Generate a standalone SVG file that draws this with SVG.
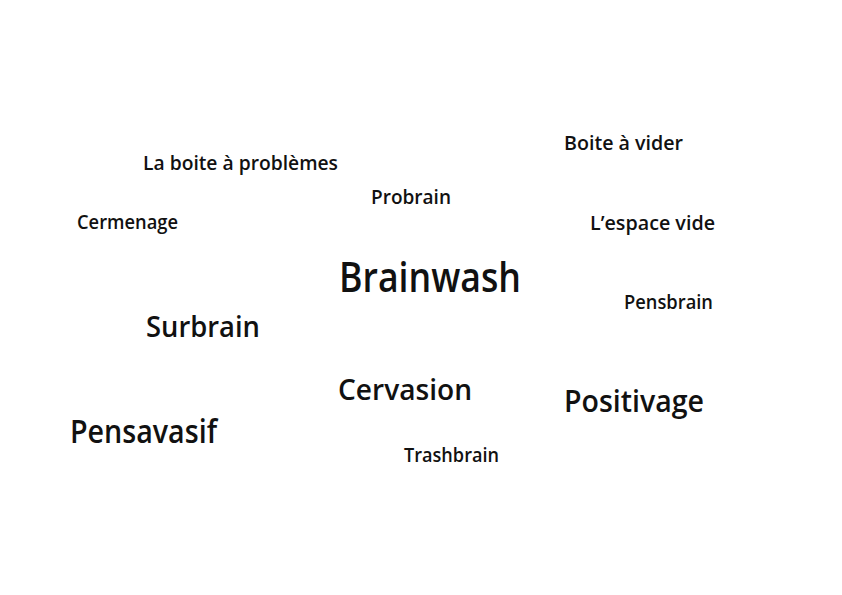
<svg xmlns="http://www.w3.org/2000/svg" width="842" height="595" viewBox="0 0 842 595">
<style>
text{font-family:"Open Sans","Liberation Sans",sans-serif;fill:#111;font-weight:600}
.s{font-size:19.5px}
.m{font-size:29px}
.l{font-size:42px}
</style>
<rect width="842" height="595" fill="#fff"/>
<g id="la-boite"><text class="s" x="143" y="170" textLength="195" lengthAdjust="spacingAndGlyphs">La boite à problèmes</text></g>
<g id="probrain"><text class="s" x="371" y="204" textLength="80" lengthAdjust="spacingAndGlyphs">Probrain</text></g>
<g id="cermenage"><text class="s" x="77" y="229" textLength="101" lengthAdjust="spacingAndGlyphs">Cermenage</text></g>
<g id="boite-a-vider"><text class="s" x="564" y="150" textLength="119" lengthAdjust="spacingAndGlyphs">Boite à vider</text></g>
<g id="espace-vide"><text class="s" x="590" y="230" textLength="125" lengthAdjust="spacingAndGlyphs">L’espace vide</text></g>
<g id="pensbrain"><text class="s" x="624" y="309" textLength="89" lengthAdjust="spacingAndGlyphs">Pensbrain</text></g>
<g id="brainwash"><text class="l" x="339" y="292" textLength="182" lengthAdjust="spacingAndGlyphs">Brainwash</text></g>
<g id="surbrain"><text class="m" x="146" y="337" textLength="114" lengthAdjust="spacingAndGlyphs">Surbrain</text></g>
<g id="cervasion"><text class="m" x="338" y="400" textLength="134" lengthAdjust="spacingAndGlyphs">Cervasion</text></g>
<g id="positivage"><text class="m" x="564" y="412" textLength="140" lengthAdjust="spacingAndGlyphs" style="font-size:31px">Positivage</text></g>
<g id="pensavasif"><text class="m" x="70" y="443" textLength="147" lengthAdjust="spacingAndGlyphs" style="font-size:32px">Pensavasif</text></g>
<g id="trashbrain"><text class="s" x="404" y="462" textLength="95" lengthAdjust="spacingAndGlyphs">Trashbrain</text></g>
</svg>
